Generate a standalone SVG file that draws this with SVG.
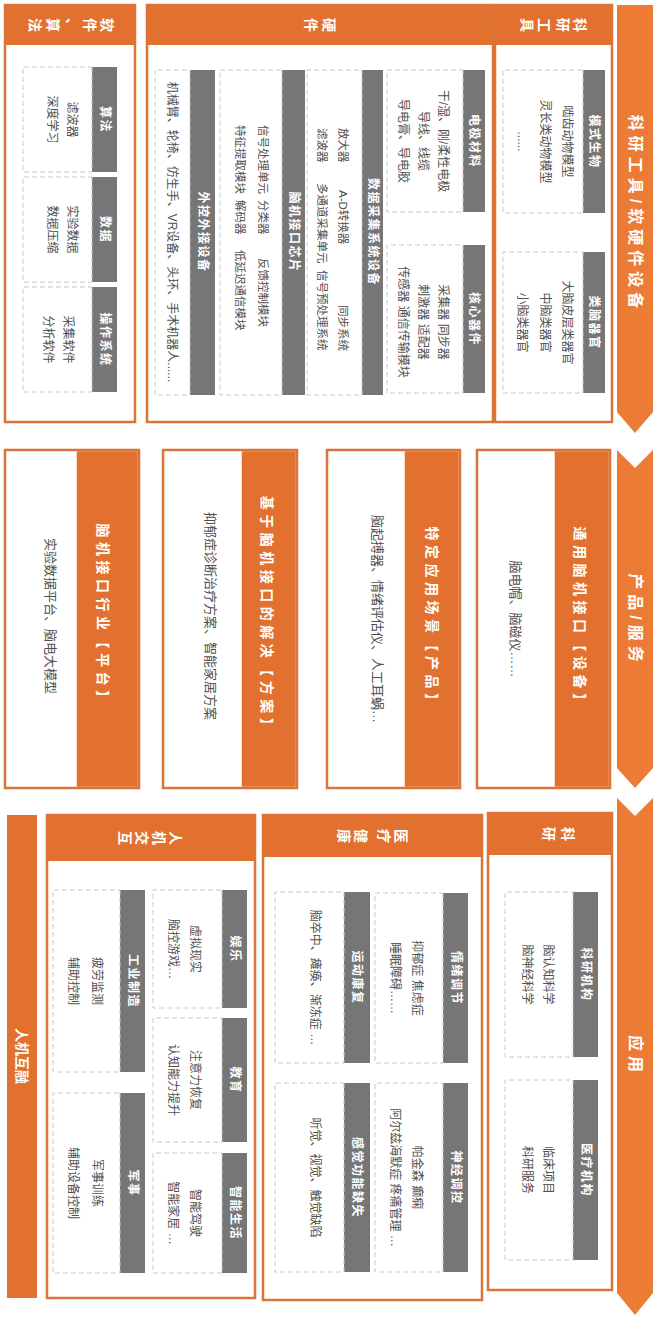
<svg xmlns="http://www.w3.org/2000/svg" width="660" height="1333" viewBox="0 0 660 1333">
<style>
.bg{fill:#ffffff}
.arrow{fill:#EC7B35}
.box{fill:#ffffff;stroke:#D9743A;stroke-width:2.5}
.hdr{fill:#E2712F}
.gray{fill:#767676}
.dash{fill:#ffffff;stroke:#C8C8C8;stroke-width:1;stroke-dasharray:5 3}
text{font-family:"Liberation Sans","Noto Sans CJK SC",sans-serif;text-anchor:middle;dominant-baseline:central}
.t{font-size:12px;fill:#505050}
.ts{font-size:11.5px;fill:#505050;text-anchor:start}
.tb{font-size:13px;fill:#505050}
.gl{font-size:12px;fill:#ffffff;font-weight:bold;letter-spacing:1.5px}
.hs{font-size:14px;fill:#ffffff;font-weight:bold}
.ph{font-size:14px;fill:#ffffff;font-weight:bold;letter-spacing:4.5px}
.at{font-size:16px;fill:#ffffff;font-weight:bold;letter-spacing:5px}
</style>
<rect class="bg" x="0" y="0" width="660" height="1333"/>
<g transform="translate(660,0) rotate(90)">
  <!-- stage chevrons -->
  <g id="stages">
    <g id="stage-tools">
      <polygon class="arrow" points="5,7 412,7 433,25 412,43 5,43"/>
      <text class="at" x="214" y="25">科研工具/软硬件设备</text>
    </g>
    <g id="stage-products">
      <polygon class="arrow" points="450,7 768,7 788,25 768,43 450,43 468,25"/>
      <text class="at" x="620" y="25">产品/服务</text>
    </g>
    <g id="stage-apps">
      <polygon class="arrow" points="798,7 1293,7 1315,25 1293,43 798,43 816,25"/>
      <text class="at" x="1056" y="25">应用</text>
    </g>
  </g>

  <!-- 科研工具 -->
  <g id="research-tools">
    <rect class="box" x="5" y="48" width="417" height="117"/>
    <rect class="hdr" x="5" y="48" width="40" height="117"/>
    <text class="hs" x="25" y="80">科</text>
    <text class="hs" x="25" y="97">研</text>
    <text class="hs" x="25" y="116">工</text>
    <text class="hs" x="25" y="133">具</text>
    <g id="model-organism">
      <rect class="gray" x="70" y="55" width="143" height="22"/>
      <text class="gl" x="141.5" y="66">模式生物</text>
      <rect class="dash" x="70" y="77" width="143" height="80"/>
      <text class="t" x="141.5" y="93">啮齿动物模型</text>
      <text class="t" x="141.5" y="115">灵长类动物模型</text>
      <text class="t" x="141.5" y="138">......</text>
    </g>
    <g id="organoid">
      <rect class="gray" x="252" y="55" width="141" height="22"/>
      <text class="gl" x="322.5" y="66">类脑器官</text>
      <rect class="dash" x="252" y="77" width="141" height="80"/>
      <text class="t" x="322.5" y="93">大脑皮层类器官</text>
      <text class="t" x="322.5" y="115">中脑类器官</text>
      <text class="t" x="322.5" y="138">小脑类器官</text>
    </g>
  </g>

  <!-- 硬件 -->
  <g id="hardware">
    <rect class="box" x="5" y="167" width="417" height="346"/>
    <rect class="hdr" x="5" y="167" width="40" height="346"/>
    <text class="hs" x="25" y="331">硬</text>
    <text class="hs" x="25" y="349">件</text>
    <g id="electrode">
      <rect class="gray" x="70" y="175" width="142" height="22"/>
      <text class="gl" x="141" y="186">电极材料</text>
      <rect class="dash" x="70" y="197" width="142" height="76"/>
      <text class="t" x="141" y="217">干/湿、刚/柔性电极</text>
      <text class="t" x="141" y="237">导线、线缆</text>
      <text class="t" x="141" y="257">导电膏、导电胶</text>
    </g>
    <g id="core-device">
      <rect class="gray" x="245" y="175" width="148" height="22"/>
      <text class="gl" x="319" y="186">核心器件</text>
      <rect class="dash" x="245" y="197" width="148" height="76"/>
      <text class="t" x="322" y="217">采集器  同步器</text>
      <text class="t" x="322" y="237">刺激器  适配器</text>
      <text class="t" x="322" y="257">传感器 通信传输模块</text>
    </g>
    <g id="acquisition">
      <rect class="gray" x="70" y="277" width="325" height="21"/>
      <text class="gl" x="232" y="287.5">数据采集系统设备</text>
      <rect class="dash" x="70" y="298" width="325" height="55"/>
      <text class="ts" x="128" y="317">放大器</text>
      <text class="ts" x="190" y="317">A-D转换器</text>
      <text class="ts" x="305" y="317">同步系统</text>
      <text class="ts" x="128" y="338">滤波器</text>
      <text class="ts" x="183" y="338">多通道采集单元</text>
      <text class="ts" x="270" y="338">信号预处理系统</text>
    </g>
    <g id="bci-chip">
      <rect class="gray" x="70" y="355" width="325" height="23"/>
      <text class="gl" x="232" y="366.5">脑机接口芯片</text>
      <rect class="dash" x="70" y="378" width="325" height="62"/>
      <text class="ts" x="125" y="397">信号处理单元</text>
      <text class="ts" x="200" y="397">分类器</text>
      <text class="ts" x="258" y="397">反馈控制模块</text>
      <text class="ts" x="125" y="420">特征提取模块</text>
      <text class="ts" x="200" y="420">解码器</text>
      <text class="ts" x="250" y="420">低延迟通信模块</text>
    </g>
    <g id="external-device">
      <rect class="gray" x="70" y="445" width="325" height="25"/>
      <text class="gl" x="232" y="457.5">外控外接设备</text>
      <rect class="dash" x="70" y="470" width="325" height="35"/>
      <text class="t" x="232" y="488">机械臂、轮椅、仿生手、VR设备、头环、手术机器人......</text>
    </g>
  </g>

  <!-- 软件、算法 -->
  <g id="software">
    <rect class="box" x="5" y="525" width="417" height="130"/>
    <rect class="hdr" x="5" y="525" width="40" height="130"/>
    <text class="hs" x="25" y="553">软</text>
    <text class="hs" x="25" y="570">件</text>
    <text class="hs" x="25" y="588">、</text>
    <text class="hs" x="25" y="607">算</text>
    <text class="hs" x="25" y="625">法</text>
    <g id="algorithm">
      <rect class="gray" x="67" y="543" width="105" height="25"/>
      <text class="gl" x="119.5" y="555.5">算法</text>
      <rect class="dash" x="67" y="568" width="105" height="69"/>
      <text class="t" x="119.5" y="588">滤波器</text>
      <text class="t" x="119.5" y="608">深度学习</text>
    </g>
    <g id="data">
      <rect class="gray" x="177" y="543" width="105" height="25"/>
      <text class="gl" x="229.5" y="555.5">数据</text>
      <rect class="dash" x="177" y="568" width="105" height="69"/>
      <text class="t" x="229.5" y="588">实验数据</text>
      <text class="t" x="229.5" y="608">数据压缩</text>
    </g>
    <g id="os">
      <rect class="gray" x="287" y="543" width="105" height="25"/>
      <text class="gl" x="339.5" y="555.5">操作系统</text>
      <rect class="dash" x="287" y="568" width="105" height="69"/>
      <text class="t" x="339.5" y="592">采集软件</text>
      <text class="t" x="339.5" y="612">分析软件</text>
    </g>
  </g>

  <!-- 产品/服务 -->
  <g id="prod-device">
    <rect class="box" x="450" y="50" width="338" height="133"/>
    <rect class="hdr" x="451.25" y="51.25" width="335.5" height="54"/>
    <text class="ph" x="619" y="80">通用脑机接口【设备】</text>
    <text class="tb" x="619" y="145">脑电帽、脑磁仪……</text>
  </g>
  <g id="prod-product">
    <rect class="box" x="450" y="200" width="338" height="133"/>
    <rect class="hdr" x="451.25" y="201.25" width="335.5" height="54"/>
    <text class="ph" x="619" y="228">特定应用场景【产品】</text>
    <text class="tb" x="619" y="283">脑起搏器、情绪评估仪、人工耳蜗…</text>
  </g>
  <g id="prod-solution">
    <rect class="box" x="450" y="363" width="338" height="134"/>
    <rect class="hdr" x="451.25" y="364.25" width="335.5" height="54"/>
    <text class="ph" x="616" y="393">基于脑机接口的解决【方案】</text>
    <text class="tb" x="616" y="450">抑郁症诊断治疗方案、智能家居方案</text>
  </g>
  <g id="prod-platform">
    <rect class="box" x="450" y="521" width="338" height="134"/>
    <rect class="hdr" x="451.25" y="522.25" width="335.5" height="61"/>
    <text class="ph" x="616" y="557">脑机接口行业【平台】</text>
    <text class="tb" x="616" y="610">实验数据平台、脑电大模型</text>
  </g>

  <!-- 应用: 科研 -->
  <g id="app-research">
    <rect class="box" x="813" y="48" width="477" height="124"/>
    <rect class="hdr" x="813" y="48" width="42" height="124"/>
    <text class="hs" x="834" y="92">科</text>
    <text class="hs" x="834" y="111">研</text>
    <g id="research-inst">
      <rect class="gray" x="892" y="62" width="165" height="25"/>
      <text class="gl" x="974.5" y="74.5">科研机构</text>
      <rect class="dash" x="892" y="87" width="165" height="68"/>
      <text class="t" x="974.5" y="112">脑认知科学</text>
      <text class="t" x="974.5" y="133">脑神经科学</text>
    </g>
    <g id="medical-inst">
      <rect class="gray" x="1080" y="62" width="180" height="25"/>
      <text class="gl" x="1170" y="74.5">医疗机构</text>
      <rect class="dash" x="1080" y="87" width="180" height="68"/>
      <text class="t" x="1170" y="112">临床项目</text>
      <text class="t" x="1170" y="133">科研服务</text>
    </g>
  </g>

  <!-- 应用: 医疗健康 -->
  <g id="app-medical">
    <rect class="box" x="815" y="178" width="485" height="219"/>
    <rect class="hdr" x="815" y="178" width="42" height="219"/>
    <text class="hs" x="836" y="259">医</text>
    <text class="hs" x="836" y="276">疗</text>
    <text class="hs" x="836" y="299">健</text>
    <text class="hs" x="836" y="316">康</text>
    <g id="emotion">
      <rect class="gray" x="893" y="192" width="170" height="25"/>
      <text class="gl" x="978" y="204.5">情绪调节</text>
      <rect class="dash" x="893" y="217" width="170" height="68"/>
      <text class="t" x="978" y="243">抑郁症  焦虑症</text>
      <text class="t" x="978" y="265">睡眠障碍……</text>
    </g>
    <g id="neuromod">
      <rect class="gray" x="1083" y="192" width="189" height="25"/>
      <text class="gl" x="1177.5" y="204.5">神经调控</text>
      <rect class="dash" x="1083" y="217" width="189" height="68"/>
      <text class="t" x="1177.5" y="243">帕金森  癫痫</text>
      <text class="t" x="1177.5" y="265">阿尔兹海默症  疼痛管理 …</text>
    </g>
    <g id="rehab">
      <rect class="gray" x="892" y="290" width="171" height="26"/>
      <text class="gl" x="977.5" y="303">运动康复</text>
      <rect class="dash" x="892" y="316" width="171" height="69"/>
      <text class="t" x="977.5" y="345">脑卒中、瘫痪、渐冻症 …</text>
    </g>
    <g id="sensory">
      <rect class="gray" x="1083" y="290" width="189" height="26"/>
      <text class="gl" x="1177.5" y="303">感觉功能缺失</text>
      <rect class="dash" x="1083" y="316" width="189" height="69"/>
      <text class="t" x="1177.5" y="345">听觉、视觉、触觉缺陷</text>
    </g>
  </g>

  <!-- 应用: 人机交互 -->
  <g id="app-hci">
    <rect class="box" x="815" y="405" width="483" height="208"/>
    <rect class="hdr" x="815" y="405" width="46" height="208"/>
    <text class="hs" x="838" y="484">人</text>
    <text class="hs" x="838" y="501">机</text>
    <text class="hs" x="838" y="518">交</text>
    <text class="hs" x="838" y="535">互</text>
    <g id="entertainment">
      <rect class="gray" x="890" y="413" width="118" height="25"/>
      <text class="gl" x="949" y="425.5">娱乐</text>
      <rect class="dash" x="890" y="438" width="118" height="69"/>
      <text class="t" x="949" y="465">虚拟现实</text>
      <text class="t" x="949" y="487">脑控游戏…</text>
    </g>
    <g id="education">
      <rect class="gray" x="1018" y="413" width="124" height="25"/>
      <text class="gl" x="1080" y="425.5">教育</text>
      <rect class="dash" x="1018" y="438" width="124" height="69"/>
      <text class="t" x="1080" y="465">注意力恢复</text>
      <text class="t" x="1080" y="487">认知能力提升</text>
    </g>
    <g id="smart-life">
      <rect class="gray" x="1153" y="413" width="120" height="25"/>
      <text class="gl" x="1213" y="425.5">智能生活</text>
      <rect class="dash" x="1153" y="438" width="120" height="69"/>
      <text class="t" x="1213" y="465">智能驾驶</text>
      <text class="t" x="1213" y="487">智能家居 …</text>
    </g>
    <g id="industry">
      <rect class="gray" x="890" y="515" width="182" height="25"/>
      <text class="gl" x="981" y="527.5">工业制造</text>
      <rect class="dash" x="890" y="540" width="182" height="67"/>
      <text class="t" x="981" y="563">疲劳监测</text>
      <text class="t" x="981" y="587">辅助控制</text>
    </g>
    <g id="military">
      <rect class="gray" x="1093" y="515" width="180" height="25"/>
      <text class="gl" x="1183" y="527.5">军事</text>
      <rect class="dash" x="1093" y="540" width="180" height="67"/>
      <text class="t" x="1183" y="563">军事训练</text>
      <text class="t" x="1183" y="587">辅助设备控制</text>
    </g>
  </g>

  <g id="fusion-bar">
    <rect class="hdr" x="815" y="623" width="483" height="30"/>
    <text class="hs" x="1056" y="638">人机互融</text>
  </g>
</g>
</svg>
